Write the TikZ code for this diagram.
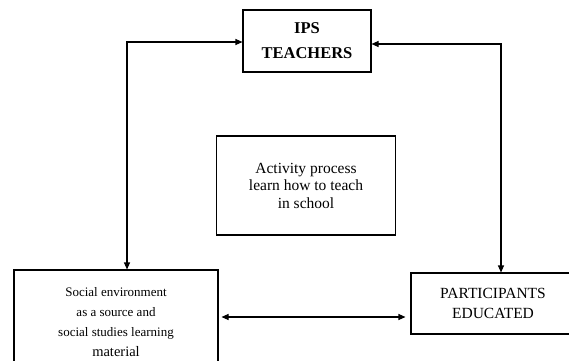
\documentclass[tikz,border=0pt]{standalone}
\usepackage{fontspec}
\setmainfont{Liberation Serif}
\usetikzlibrary{arrows.meta}

\begin{document}
\begin{tikzpicture}[x=1pt,y=-1pt,
  box/.style={draw,line width=1.1pt,align=center,inner sep=0pt},
  link/.style={line width=1.1pt,{Triangle[length=7pt,width=6pt]}-{Triangle[length=7pt,width=6pt]}}]
  \clip (0,0) rectangle (569,360);
  \node[box,minimum width=128pt,minimum height=62pt,
    font=\bfseries\fontsize{16.5}{25}\selectfont] (ips) at (307,41) {IPS\\TEACHERS};
  \node[box,minimum width=179pt,minimum height=99pt,
    font=\fontsize{15.5}{17.5}\selectfont] (act) at (306,185.5)
    {Activity process\\learn how to teach\\in school};
  \node[box,minimum width=204pt,minimum height=104pt,
    font=\fontsize{13}{20}\selectfont] (env) at (116,322)
    {Social environment\\as a source and\\social studies learning\\{\fontsize{14.5}{20}\selectfont material}};
  \node[box,minimum width=164pt,minimum height=61pt,
    font=\fontsize{15.5}{20}\selectfont] (part) at (493,303.5)
    {PARTICIPANTS\\EDUCATED};
  % corners and the middle link
  \coordinate (lc) at (127,42);
  \coordinate (rc) at (501,44);
  \coordinate (mid) at (300,317);
  \draw[link] (ips.west |- lc) -- (lc) -- (lc |- env.north);
  \draw[link] (ips.east |- rc) -- (rc) -- (rc |- part.north);
  \draw[link,shorten <=3pt,shorten >=5pt] (env.east |- mid) -- (part.west |- mid);
\end{tikzpicture}
\end{document}
